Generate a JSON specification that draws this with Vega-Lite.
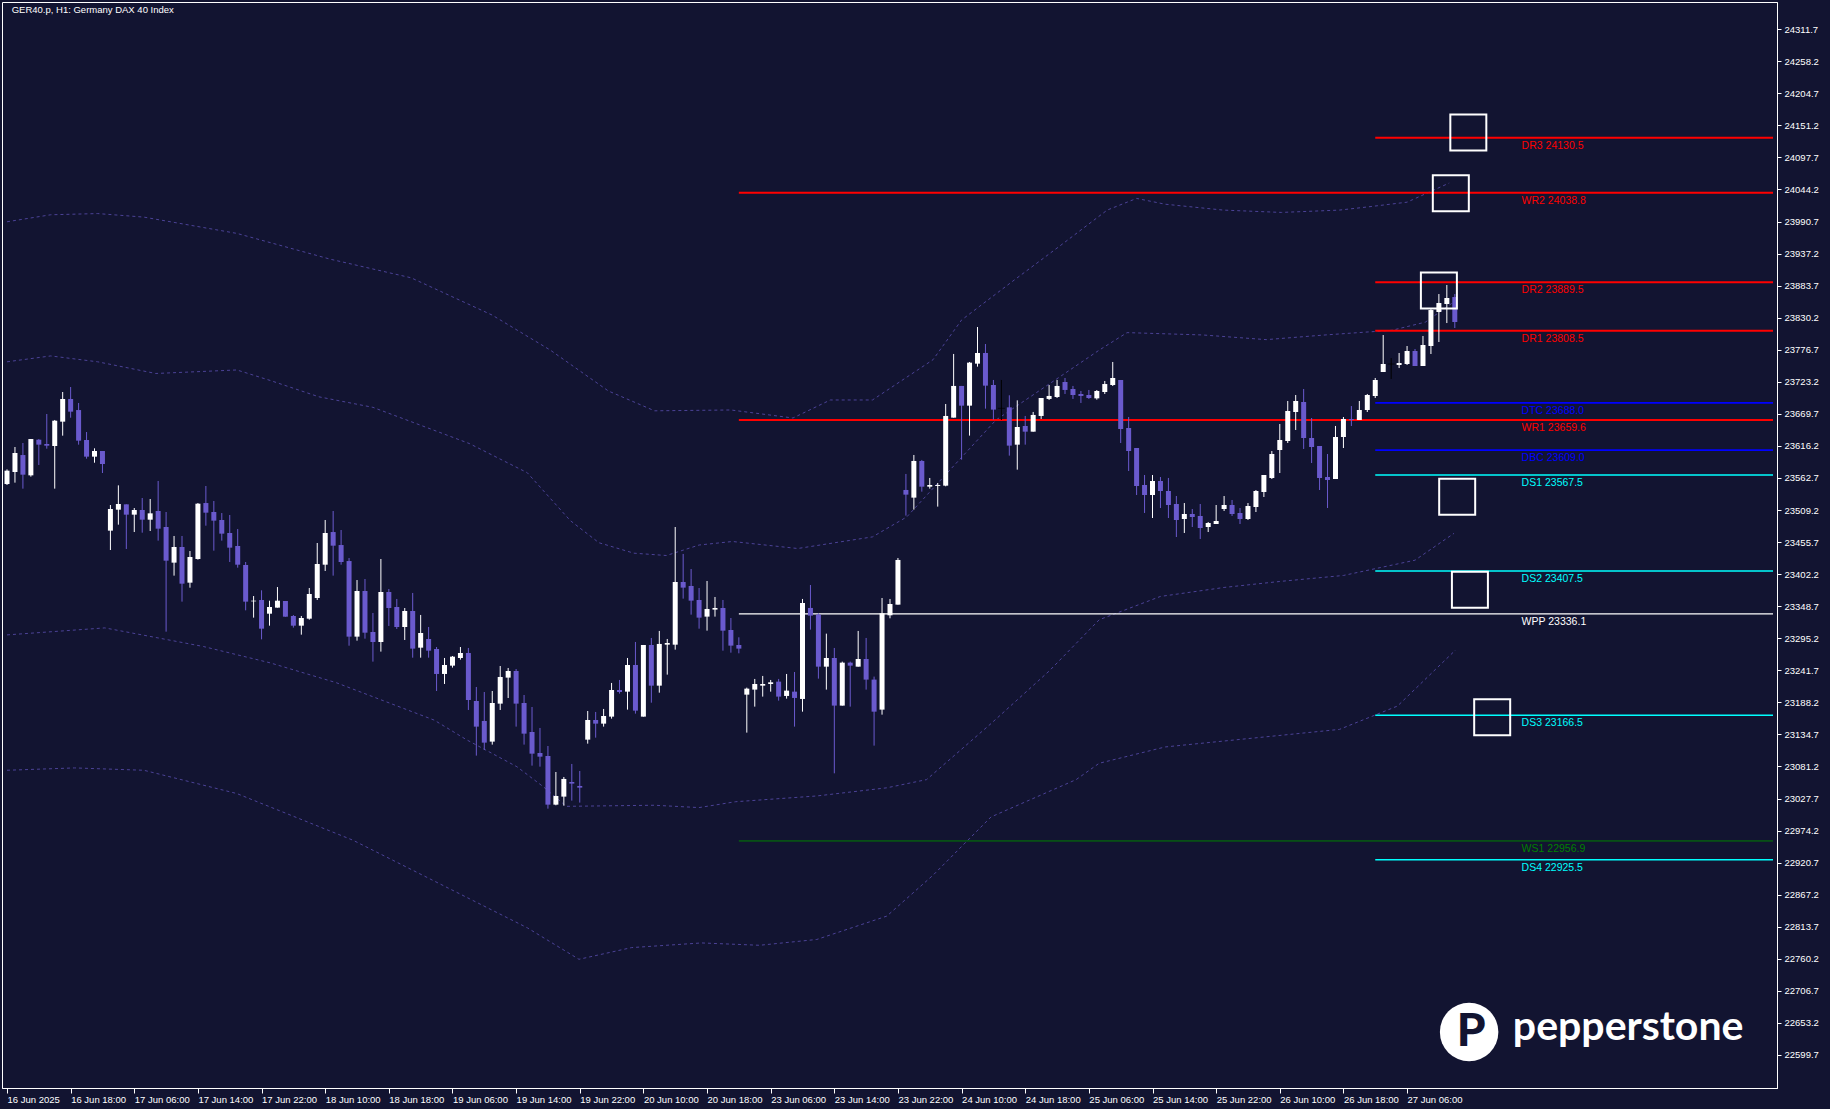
{
  "$schema": "https://vega.github.io/schema/vega-lite/v6.json",
  "width": 1775,
  "height": 1086,
  "autosize": {"type": "none"},
  "padding": {"left": 2, "top": 2, "right": 53, "bottom": 21},
  "background": "#121431",
  "config": {
    "view": {"stroke": "#ffffff", "strokeWidth": 1, "fill": "#121431"},
    "axis": {"grid": false, "title": null, "labelFont": "Liberation Sans", "labelFontSize": 9.5, "labelColor": "#ffffff", "tickColor": "#ffffff", "domainColor": "#ffffff", "labelOverlap": false, "labelSeparation": 0},
    "axisY": {"labelOverlap": false},
    "axisRight": {"labelOverlap": false},
    "axisQuantitative": {"labelOverlap": false}
  },
  "datasets": {
    "candles": [
      {"i":0,"o":23552.6,"h":23577.1,"l":23551.0,"c":23574.9,"d":"up"},
      {"i":1,"o":23572.7,"h":23614.4,"l":23554.9,"c":23604.4,"d":"up"},
      {"i":2,"o":23601.0,"h":23621.1,"l":23544.9,"c":23568.2,"d":"down"},
      {"i":3,"o":23567.1,"h":23627.7,"l":23564.9,"c":23627.7,"d":"up"},
      {"i":4,"o":23626.6,"h":23627.7,"l":23584.4,"c":23618.3,"d":"down"},
      {"i":5,"o":23619.4,"h":23669.5,"l":23611.6,"c":23616.6,"d":"down"},
      {"i":6,"o":23616.1,"h":23659.5,"l":23544.9,"c":23658.3,"d":"up"},
      {"i":7,"o":23656.7,"h":23706.2,"l":23633.3,"c":23694.5,"d":"up"},
      {"i":8,"o":23694.5,"h":23714.5,"l":23663.3,"c":23673.4,"d":"down"},
      {"i":9,"o":23676.1,"h":23687.8,"l":23618.3,"c":23625.0,"d":"down"},
      {"i":10,"o":23626.1,"h":23639.4,"l":23594.9,"c":23598.3,"d":"down"},
      {"i":11,"o":23598.3,"h":23612.2,"l":23588.2,"c":23607.7,"d":"up"},
      {"i":12,"o":23607.7,"h":23607.7,"l":23571.0,"c":23586.0,"d":"down"},
      {"i":13,"o":23474.8,"h":23517.6,"l":23442.5,"c":23510.9,"d":"up"},
      {"i":14,"o":23509.8,"h":23550.4,"l":23484.8,"c":23519.3,"d":"up"},
      {"i":15,"o":23518.7,"h":23518.7,"l":23444.2,"c":23501.5,"d":"down"},
      {"i":16,"o":23501.5,"h":23512.6,"l":23472.5,"c":23509.3,"d":"up"},
      {"i":17,"o":23509.3,"h":23529.3,"l":23471.4,"c":23493.1,"d":"down"},
      {"i":18,"o":23493.1,"h":23527.6,"l":23474.2,"c":23503.7,"d":"up"},
      {"i":19,"o":23507.6,"h":23557.7,"l":23458.1,"c":23478.1,"d":"down"},
      {"i":20,"o":23480.9,"h":23505.9,"l":23306.2,"c":23424.7,"d":"down"},
      {"i":21,"o":23421.4,"h":23465.9,"l":23399.7,"c":23447.5,"d":"up"},
      {"i":22,"o":23447.5,"h":23465.9,"l":23356.3,"c":23386.3,"d":"down"},
      {"i":23,"o":23388.0,"h":23440.8,"l":23379.6,"c":23430.8,"d":"up"},
      {"i":24,"o":23427.5,"h":23520.9,"l":23426.4,"c":23519.8,"d":"up"},
      {"i":25,"o":23520.9,"h":23549.3,"l":23483.1,"c":23504.8,"d":"down"},
      {"i":26,"o":23505.9,"h":23524.3,"l":23441.4,"c":23491.5,"d":"down"},
      {"i":27,"o":23492.6,"h":23504.2,"l":23458.1,"c":23469.8,"d":"down"},
      {"i":28,"o":23470.9,"h":23500.9,"l":23422.5,"c":23446.4,"d":"down"},
      {"i":29,"o":23449.2,"h":23477.5,"l":23413.0,"c":23418.0,"d":"down"},
      {"i":30,"o":23417.5,"h":23422.5,"l":23341.8,"c":23356.3,"d":"down"},
      {"i":31,"o":23356.8,"h":23365.7,"l":23329.6,"c":23357.9,"d":"up"},
      {"i":32,"o":23359.1,"h":23375.2,"l":23293.4,"c":23311.2,"d":"down"},
      {"i":33,"o":23336.2,"h":23357.9,"l":23316.2,"c":23347.4,"d":"up"},
      {"i":34,"o":23346.3,"h":23380.7,"l":23346.3,"c":23357.9,"d":"up"},
      {"i":35,"o":23357.4,"h":23357.4,"l":23331.2,"c":23331.2,"d":"down"},
      {"i":36,"o":23332.4,"h":23334.0,"l":23312.9,"c":23316.2,"d":"down"},
      {"i":37,"o":23316.2,"h":23332.4,"l":23301.2,"c":23329.0,"d":"up"},
      {"i":38,"o":23327.9,"h":23379.1,"l":23326.2,"c":23369.1,"d":"up"},
      {"i":39,"o":23362.4,"h":23454.2,"l":23359.1,"c":23419.1,"d":"up"},
      {"i":40,"o":23418.0,"h":23492.6,"l":23407.5,"c":23470.9,"d":"up"},
      {"i":41,"o":23472.5,"h":23507.6,"l":23399.7,"c":23449.7,"d":"down"},
      {"i":42,"o":23450.8,"h":23475.9,"l":23418.0,"c":23422.5,"d":"down"},
      {"i":43,"o":23424.1,"h":23429.1,"l":23282.8,"c":23297.9,"d":"down"},
      {"i":44,"o":23297.9,"h":23392.4,"l":23291.2,"c":23374.1,"d":"up"},
      {"i":45,"o":23374.1,"h":23394.1,"l":23294.5,"c":23304.5,"d":"down"},
      {"i":46,"o":23305.7,"h":23337.4,"l":23256.2,"c":23289.0,"d":"down"},
      {"i":47,"o":23289.0,"h":23427.5,"l":23272.9,"c":23372.4,"d":"up"},
      {"i":48,"o":23372.4,"h":23377.4,"l":23315.7,"c":23345.7,"d":"down"},
      {"i":49,"o":23347.4,"h":23360.8,"l":23310.7,"c":23314.0,"d":"down"},
      {"i":50,"o":23314.0,"h":23345.7,"l":23292.3,"c":23340.7,"d":"up"},
      {"i":51,"o":23340.7,"h":23370.8,"l":23262.8,"c":23277.9,"d":"down"},
      {"i":52,"o":23279.5,"h":23334.1,"l":23262.8,"c":23304.0,"d":"up"},
      {"i":53,"o":23294.0,"h":23314.0,"l":23262.8,"c":23274.5,"d":"down"},
      {"i":54,"o":23277.3,"h":23280.6,"l":23207.2,"c":23235.6,"d":"down"},
      {"i":55,"o":23235.6,"h":23262.3,"l":23218.9,"c":23250.6,"d":"up"},
      {"i":56,"o":23249.5,"h":23265.6,"l":23246.2,"c":23264.5,"d":"up"},
      {"i":57,"o":23262.3,"h":23280.6,"l":23259.5,"c":23270.6,"d":"up"},
      {"i":58,"o":23270.6,"h":23279.0,"l":23175.5,"c":23192.2,"d":"down"},
      {"i":59,"o":23190.5,"h":23213.9,"l":23099.3,"c":23147.7,"d":"down"},
      {"i":60,"o":23157.2,"h":23205.5,"l":23108.8,"c":23121.0,"d":"down"},
      {"i":61,"o":23122.7,"h":23207.2,"l":23117.7,"c":23187.2,"d":"up"},
      {"i":62,"o":23186.1,"h":23248.9,"l":23175.5,"c":23230.6,"d":"up"},
      {"i":63,"o":23229.5,"h":23245.6,"l":23195.5,"c":23240.6,"d":"up"},
      {"i":64,"o":23240.6,"h":23243.9,"l":23147.7,"c":23186.1,"d":"down"},
      {"i":65,"o":23187.2,"h":23200.5,"l":23117.7,"c":23136.0,"d":"down"},
      {"i":66,"o":23138.8,"h":23180.5,"l":23082.6,"c":23102.6,"d":"down"},
      {"i":67,"o":23103.7,"h":23145.5,"l":23080.9,"c":23097.6,"d":"down"},
      {"i":68,"o":23098.7,"h":23115.4,"l":23010.8,"c":23017.5,"d":"down"},
      {"i":69,"o":23017.5,"h":23072.0,"l":23016.4,"c":23032.0,"d":"up"},
      {"i":70,"o":23030.9,"h":23063.7,"l":23015.8,"c":23060.4,"d":"up"},
      {"i":71,"o":23055.3,"h":23085.4,"l":23024.2,"c":23052.6,"d":"down"},
      {"i":72,"o":23048.7,"h":23073.7,"l":23020.9,"c":23045.9,"d":"down"},
      {"i":73,"o":23126.0,"h":23173.8,"l":23119.3,"c":23158.8,"d":"up"},
      {"i":74,"o":23158.8,"h":23172.2,"l":23129.3,"c":23152.7,"d":"down"},
      {"i":75,"o":23152.7,"h":23177.2,"l":23147.7,"c":23165.5,"d":"up"},
      {"i":76,"o":23164.4,"h":23220.6,"l":23161.0,"c":23208.9,"d":"up"},
      {"i":77,"o":23208.9,"h":23225.6,"l":23202.8,"c":23205.5,"d":"down"},
      {"i":78,"o":23206.1,"h":23262.3,"l":23176.1,"c":23250.6,"d":"up"},
      {"i":79,"o":23250.6,"h":23289.0,"l":23169.4,"c":23174.4,"d":"down"},
      {"i":80,"o":23164.4,"h":23284.0,"l":23164.4,"c":23284.0,"d":"up"},
      {"i":81,"o":23284.0,"h":23295.7,"l":23187.7,"c":23216.1,"d":"down"},
      {"i":82,"o":23216.1,"h":23307.4,"l":23204.4,"c":23285.7,"d":"up"},
      {"i":83,"o":23284.5,"h":23294.0,"l":23234.5,"c":23287.3,"d":"up"},
      {"i":84,"o":23284.5,"h":23480.9,"l":23276.2,"c":23389.1,"d":"up"},
      {"i":85,"o":23389.1,"h":23435.9,"l":23361.3,"c":23379.7,"d":"down"},
      {"i":86,"o":23382.5,"h":23410.8,"l":23334.6,"c":23358.0,"d":"down"},
      {"i":87,"o":23359.1,"h":23379.1,"l":23311.2,"c":23329.6,"d":"down"},
      {"i":88,"o":23331.3,"h":23390.8,"l":23307.9,"c":23344.1,"d":"up"},
      {"i":89,"o":23343.0,"h":23364.1,"l":23331.3,"c":23345.7,"d":"up"},
      {"i":90,"o":23345.7,"h":23359.1,"l":23274.5,"c":23307.9,"d":"down"},
      {"i":91,"o":23309.0,"h":23329.0,"l":23271.2,"c":23282.9,"d":"down"},
      {"i":92,"o":23284.0,"h":23296.8,"l":23270.1,"c":23277.9,"d":"down"},
      {"i":93,"o":23201.1,"h":23212.8,"l":23137.7,"c":23211.1,"d":"up"},
      {"i":94,"o":23209.5,"h":23227.3,"l":23181.1,"c":23218.9,"d":"up"},
      {"i":95,"o":23216.1,"h":23232.3,"l":23197.8,"c":23218.9,"d":"up"},
      {"i":96,"o":23218.9,"h":23225.6,"l":23206.1,"c":23221.7,"d":"up"},
      {"i":97,"o":23222.8,"h":23227.3,"l":23191.1,"c":23197.8,"d":"down"},
      {"i":98,"o":23198.9,"h":23235.6,"l":23194.4,"c":23207.8,"d":"up"},
      {"i":99,"o":23206.1,"h":23238.9,"l":23147.7,"c":23195.6,"d":"down"},
      {"i":100,"o":23193.9,"h":23360.8,"l":23172.7,"c":23354.1,"d":"up"},
      {"i":101,"o":23345.8,"h":23384.1,"l":23309.6,"c":23333.0,"d":"down"},
      {"i":102,"o":23334.6,"h":23336.9,"l":23227.8,"c":23247.8,"d":"down"},
      {"i":103,"o":23247.8,"h":23302.9,"l":23209.5,"c":23262.3,"d":"up"},
      {"i":104,"o":23262.3,"h":23279.0,"l":23069.8,"c":23182.8,"d":"down"},
      {"i":105,"o":23182.8,"h":23256.2,"l":23182.8,"c":23254.5,"d":"up"},
      {"i":106,"o":23254.5,"h":23256.2,"l":23181.1,"c":23249.5,"d":"down"},
      {"i":107,"o":23247.8,"h":23307.4,"l":23247.8,"c":23260.6,"d":"up"},
      {"i":108,"o":23260.6,"h":23295.7,"l":23209.5,"c":23226.2,"d":"down"},
      {"i":109,"o":23226.2,"h":23231.2,"l":23116.0,"c":23172.7,"d":"down"},
      {"i":110,"o":23176.1,"h":23362.4,"l":23167.7,"c":23336.9,"d":"up"},
      {"i":111,"o":23333.5,"h":23360.8,"l":23328.5,"c":23352.4,"d":"up"},
      {"i":112,"o":23351.3,"h":23429.2,"l":23351.3,"c":23425.9,"d":"up"},
      {"i":113,"o":23542.7,"h":23569.4,"l":23499.9,"c":23534.9,"d":"down"},
      {"i":114,"o":23529.9,"h":23601.1,"l":23509.9,"c":23591.1,"d":"up"},
      {"i":115,"o":23591.1,"h":23592.8,"l":23539.9,"c":23548.2,"d":"down"},
      {"i":116,"o":23548.2,"h":23562.7,"l":23544.9,"c":23551.0,"d":"up"},
      {"i":117,"o":23549.4,"h":23554.4,"l":23514.9,"c":23551.0,"d":"up"},
      {"i":118,"o":23549.9,"h":23686.2,"l":23548.8,"c":23666.2,"d":"up"},
      {"i":119,"o":23663.4,"h":23769.7,"l":23663.4,"c":23716.3,"d":"up"},
      {"i":120,"o":23716.3,"h":23716.3,"l":23593.3,"c":23683.4,"d":"down"},
      {"i":121,"o":23683.4,"h":23756.3,"l":23633.4,"c":23755.2,"d":"up"},
      {"i":122,"o":23753.5,"h":23814.7,"l":23748.5,"c":23771.3,"d":"up"},
      {"i":123,"o":23771.3,"h":23786.3,"l":23678.4,"c":23716.8,"d":"down"},
      {"i":124,"o":23717.9,"h":23726.3,"l":23660.1,"c":23676.8,"d":"down"},
      {"i":125,"o":23679.0,"h":23726.3,"l":23659.5,"c":23679.0,"d":"flat"},
      {"i":126,"o":23680.6,"h":23700.7,"l":23600.0,"c":23616.7,"d":"down"},
      {"i":127,"o":23618.3,"h":23692.3,"l":23576.6,"c":23647.8,"d":"up"},
      {"i":128,"o":23649.5,"h":23666.2,"l":23618.3,"c":23640.0,"d":"down"},
      {"i":129,"o":23640.0,"h":23672.9,"l":23640.0,"c":23667.9,"d":"up"},
      {"i":130,"o":23666.2,"h":23696.2,"l":23661.2,"c":23696.2,"d":"up"},
      {"i":131,"o":23694.6,"h":23717.9,"l":23692.9,"c":23699.6,"d":"up"},
      {"i":132,"o":23697.9,"h":23726.3,"l":23696.2,"c":23716.3,"d":"up"},
      {"i":133,"o":23722.9,"h":23729.6,"l":23702.9,"c":23709.6,"d":"down"},
      {"i":134,"o":23711.2,"h":23716.3,"l":23694.6,"c":23701.2,"d":"down"},
      {"i":135,"o":23702.9,"h":23707.9,"l":23687.9,"c":23699.6,"d":"down"},
      {"i":136,"o":23701.2,"h":23709.6,"l":23694.6,"c":23696.2,"d":"down"},
      {"i":137,"o":23695.6,"h":23709.5,"l":23693.4,"c":23707.9,"d":"up"},
      {"i":138,"o":23706.2,"h":23724.6,"l":23702.9,"c":23719.5,"d":"up"},
      {"i":139,"o":23717.9,"h":23756.3,"l":23716.2,"c":23729.6,"d":"up"},
      {"i":140,"o":23726.2,"h":23726.2,"l":23621.1,"c":23644.4,"d":"down"},
      {"i":141,"o":23646.1,"h":23664.5,"l":23574.4,"c":23607.7,"d":"down"},
      {"i":142,"o":23612.7,"h":23612.7,"l":23534.3,"c":23549.3,"d":"down"},
      {"i":143,"o":23551.0,"h":23567.7,"l":23504.3,"c":23534.3,"d":"down"},
      {"i":144,"o":23534.3,"h":23567.7,"l":23495.9,"c":23557.7,"d":"up"},
      {"i":145,"o":23557.7,"h":23564.3,"l":23512.6,"c":23541.0,"d":"down"},
      {"i":146,"o":23541.0,"h":23562.7,"l":23495.9,"c":23517.6,"d":"down"},
      {"i":147,"o":23519.3,"h":23532.6,"l":23464.2,"c":23492.6,"d":"down"},
      {"i":148,"o":23494.2,"h":23520.9,"l":23470.9,"c":23502.6,"d":"up"},
      {"i":149,"o":23502.6,"h":23510.9,"l":23480.9,"c":23497.6,"d":"down"},
      {"i":150,"o":23499.3,"h":23519.3,"l":23460.9,"c":23479.2,"d":"down"},
      {"i":151,"o":23480.9,"h":23489.2,"l":23472.5,"c":23487.6,"d":"up"},
      {"i":152,"o":23485.9,"h":23517.6,"l":23485.9,"c":23490.9,"d":"up"},
      {"i":153,"o":23510.9,"h":23532.6,"l":23507.6,"c":23517.6,"d":"up"},
      {"i":154,"o":23517.6,"h":23526.0,"l":23499.3,"c":23502.6,"d":"down"},
      {"i":155,"o":23504.3,"h":23512.6,"l":23485.9,"c":23494.2,"d":"down"},
      {"i":156,"o":23494.2,"h":23520.9,"l":23492.6,"c":23515.9,"d":"up"},
      {"i":157,"o":23514.3,"h":23542.6,"l":23505.9,"c":23541.0,"d":"up"},
      {"i":158,"o":23539.3,"h":23567.7,"l":23531.0,"c":23567.7,"d":"up"},
      {"i":159,"o":23562.7,"h":23607.7,"l":23561.0,"c":23602.7,"d":"up"},
      {"i":160,"o":23609.4,"h":23652.8,"l":23571.0,"c":23626.1,"d":"up"},
      {"i":161,"o":23624.4,"h":23691.2,"l":23621.1,"c":23674.5,"d":"up"},
      {"i":162,"o":23672.8,"h":23701.2,"l":23642.8,"c":23691.2,"d":"up"},
      {"i":163,"o":23689.5,"h":23711.2,"l":23611.1,"c":23629.4,"d":"down"},
      {"i":164,"o":23629.4,"h":23662.8,"l":23587.7,"c":23614.4,"d":"down"},
      {"i":165,"o":23616.1,"h":23616.1,"l":23542.6,"c":23562.7,"d":"down"},
      {"i":166,"o":23564.3,"h":23602.7,"l":23512.6,"c":23559.3,"d":"down"},
      {"i":167,"o":23561.0,"h":23649.5,"l":23561.0,"c":23631.1,"d":"up"},
      {"i":168,"o":23631.1,"h":23664.5,"l":23612.7,"c":23661.1,"d":"up"},
      {"i":169,"o":23661.1,"h":23682.8,"l":23649.5,"c":23659.5,"d":"down"},
      {"i":170,"o":23659.5,"h":23691.2,"l":23659.5,"c":23676.2,"d":"up"},
      {"i":171,"o":23676.2,"h":23702.9,"l":23672.8,"c":23701.2,"d":"up"},
      {"i":172,"o":23699.5,"h":23729.6,"l":23696.2,"c":23726.2,"d":"up"},
      {"i":173,"o":23739.6,"h":23801.3,"l":23739.6,"c":23752.9,"d":"up"},
      {"i":174,"o":23752.9,"h":23762.9,"l":23727.9,"c":23752.9,"d":"flat"},
      {"i":175,"o":23751.3,"h":23771.3,"l":23746.2,"c":23754.6,"d":"up"},
      {"i":176,"o":23752.9,"h":23783.0,"l":23751.3,"c":23774.6,"d":"up"},
      {"i":177,"o":23774.6,"h":23778.0,"l":23749.6,"c":23749.6,"d":"down"},
      {"i":178,"o":23749.6,"h":23799.7,"l":23749.6,"c":23784.6,"d":"up"},
      {"i":179,"o":23783.0,"h":23844.7,"l":23769.6,"c":23843.0,"d":"up"},
      {"i":180,"o":23839.7,"h":23869.7,"l":23789.6,"c":23854.7,"d":"up"},
      {"i":181,"o":23853.1,"h":23884.8,"l":23821.3,"c":23863.1,"d":"up"},
      {"i":182,"o":23864.7,"h":23869.7,"l":23813.0,"c":23823.0,"d":"down"}
    ],
    "bands": [
      {"b":"L1","i":0,"v":23990.3},{"b":"L1","i":5.5,"v":24002.0},{"b":"L1","i":11.4,"v":24004.0},{"b":"L1","i":17.2,"v":23998.1},{"b":"L1","i":28.9,"v":23970.9},{"b":"L1","i":40.6,"v":23928.0},{"b":"L1","i":50.8,"v":23896.8},{"b":"L1","i":61.0,"v":23834.5},{"b":"L1","i":68.3,"v":23776.1},{"b":"L1","i":75.6,"v":23707.9},{"b":"L1","i":81.4,"v":23674.8},{"b":"L1","i":91.0,"v":23676.2},{"b":"L1","i":98.8,"v":23662.8},{"b":"L1","i":103.5,"v":23692.9},{"b":"L1","i":108.8,"v":23692.9},{"b":"L1","i":116.4,"v":23760.0},{"b":"L1","i":120.0,"v":23826.4},{"b":"L1","i":126.6,"v":23892.9},{"b":"L1","i":132.5,"v":23951.4},{"b":"L1","i":138.3,"v":24009.8},{"b":"L1","i":142.0,"v":24029.3},{"b":"L1","i":145.6,"v":24019.6},{"b":"L1","i":152.9,"v":24009.8},{"b":"L1","i":160.2,"v":24005.9},{"b":"L1","i":167.5,"v":24009.8},{"b":"L1","i":171.0,"v":24015.0},{"b":"L1","i":176.0,"v":24023.0},{"b":"L1","i":181.3,"v":24055.0},
      {"b":"L2","i":0,"v":23756.6},{"b":"L2","i":5.5,"v":23766.4},{"b":"L2","i":11.4,"v":23756.6},{"b":"L2","i":18.7,"v":23737.1},{"b":"L2","i":28.9,"v":23743.0},{"b":"L2","i":33.1,"v":23725.4},{"b":"L2","i":39.2,"v":23698.2},{"b":"L2","i":46.0,"v":23680.6},{"b":"L2","i":58.1,"v":23620.3},{"b":"L2","i":65.4,"v":23571.5},{"b":"L2","i":70.8,"v":23491.7},{"b":"L2","i":74.4,"v":23454.7},{"b":"L2","i":78.8,"v":23437.2},{"b":"L2","i":82.9,"v":23433.3},{"b":"L2","i":87.0,"v":23450.8},{"b":"L2","i":91.2,"v":23456.7},{"b":"L2","i":99.4,"v":23445.0},{"b":"L2","i":108.8,"v":23464.4},{"b":"L2","i":113.1,"v":23497.6},{"b":"L2","i":124.3,"v":23659.2},{"b":"L2","i":137.3,"v":23776.1},{"b":"L2","i":140.8,"v":23805.3},{"b":"L2","i":150.3,"v":23801.4},{"b":"L2","i":158.3,"v":23793.6},{"b":"L2","i":165.7,"v":23801.4},{"b":"L2","i":174.1,"v":23809.2},{"b":"L2","i":178.3,"v":23822.8},{"b":"L2","i":181.6,"v":23854.0},
      {"b":"L3","i":0,"v":23300.8},{"b":"L3","i":12.3,"v":23312.5},{"b":"L3","i":18.5,"v":23297.0},{"b":"L3","i":24.7,"v":23281.4},{"b":"L3","i":33.1,"v":23254.1},{"b":"L3","i":41.4,"v":23221.0},{"b":"L3","i":46.0,"v":23197.6},{"b":"L3","i":53.7,"v":23158.6},{"b":"L3","i":57.8,"v":23125.6},{"b":"L3","i":64.1,"v":23080.8},{"b":"L3","i":67.4,"v":23047.6},{"b":"L3","i":70.3,"v":23014.7},{"b":"L3","i":81.4,"v":23016.5},{"b":"L3","i":87.0,"v":23012.6},{"b":"L3","i":91.6,"v":23022.4},{"b":"L3","i":101.8,"v":23032.0},{"b":"L3","i":110.6,"v":23045.6},{"b":"L3","i":115.6,"v":23059.3},{"b":"L3","i":123.7,"v":23152.8},{"b":"L3","i":131.0,"v":23240.4},{"b":"L3","i":137.3,"v":23326.1},{"b":"L3","i":145.0,"v":23365.0},{"b":"L3","i":153.0,"v":23380.0},{"b":"L3","i":160.0,"v":23390.0},{"b":"L3","i":168.0,"v":23400.0},{"b":"L3","i":177.0,"v":23425.5},{"b":"L3","i":181.9,"v":23470.3},
      {"b":"L4","i":0,"v":23074.9},{"b":"L4","i":8.5,"v":23078.8},{"b":"L4","i":17.2,"v":23074.9},{"b":"L4","i":28.9,"v":23036.0},{"b":"L4","i":43.5,"v":22958.1},{"b":"L4","i":58.1,"v":22860.7},{"b":"L4","i":65.4,"v":22812.0},{"b":"L4","i":71.9,"v":22759.4},{"b":"L4","i":78.5,"v":22778.9},{"b":"L4","i":87.3,"v":22786.7},{"b":"L4","i":94.6,"v":22782.8},{"b":"L4","i":101.8,"v":22792.5},{"b":"L4","i":110.6,"v":22831.5},{"b":"L4","i":116.4,"v":22899.6},{"b":"L4","i":123.7,"v":22997.0},{"b":"L4","i":134.4,"v":23059.3},{"b":"L4","i":137.3,"v":23086.6},{"b":"L4","i":145.6,"v":23113.8},{"b":"L4","i":152.9,"v":23123.6},{"b":"L4","i":160.2,"v":23133.3},{"b":"L4","i":167.5,"v":23143.1},{"b":"L4","i":174.8,"v":23182.1},{"b":"L4","i":182.1,"v":23275.6}
    ],
    "levels": [
      {"name":"DR3","v":24130.5,"from":172,"kind":"resistance","label":"DR3 24130.5"},
      {"name":"WR2","v":24038.8,"from":92,"kind":"resistance","label":"WR2 24038.8"},
      {"name":"DR2","v":23889.5,"from":172,"kind":"resistance","label":"DR2 23889.5"},
      {"name":"DR1","v":23808.5,"from":172,"kind":"resistance","label":"DR1 23808.5"},
      {"name":"DTC","v":23688.0,"from":172,"kind":"central","label":"DTC 23688.0"},
      {"name":"WR1","v":23659.6,"from":92,"kind":"resistance","label":"WR1 23659.6"},
      {"name":"DBC","v":23609.0,"from":172,"kind":"central","label":"DBC 23609.0"},
      {"name":"DS1","v":23567.5,"from":172,"kind":"daily support","label":"DS1 23567.5"},
      {"name":"DS2","v":23407.5,"from":172,"kind":"daily support","label":"DS2 23407.5"},
      {"name":"WPP","v":23336.1,"from":92,"kind":"pivot","label":"WPP 23336.1"},
      {"name":"DS3","v":23166.5,"from":172,"kind":"daily support","label":"DS3 23166.5"},
      {"name":"WS1","v":22956.9,"from":92,"kind":"weekly support","label":"WS1 22956.9"},
      {"name":"DS4","v":22925.5,"from":172,"kind":"daily support","label":"DS4 22925.5"}
    ],
    "boxes": [
      {"i":183.7,"v":24139.5},
      {"i":181.5,"v":24037.8},
      {"i":180.0,"v":23875.6},
      {"i":182.3,"v":23531.5},
      {"i":183.9,"v":23376.3},
      {"i":186.7,"v":23163.3}
    ],
    "captions": [
      {"text":"GER40.p, H1:  Germany DAX 40 Index","i":0.59,"v":24338.2},
      {"text":"pepperstone","i":189.3,"v":22624.8}
    ]
  },
  "layer": [
    {
      "data": {"name": "bands"},
      "mark": {"type": "line", "strokeDash": [3, 3], "strokeWidth": 1, "color": "#4b4296", "clip": true},
      "encoding": {
        "x": {"field": "i", "type": "quantitative", "scale": {"domain": [0, 221.875], "nice": false, "zero": false},
          "axis": {"orient": "bottom", "values": [0,8,16,24,32,40,48,56,64,72,80,88,96,104,112,120,128,136,144,152,160,168,176],
            "labelExpr": "['16 Jun 2025','16 Jun 18:00','17 Jun 06:00','17 Jun 14:00','17 Jun 22:00','18 Jun 10:00','18 Jun 18:00','19 Jun 06:00','19 Jun 14:00','19 Jun 22:00','20 Jun 10:00','20 Jun 18:00','23 Jun 06:00','23 Jun 14:00','23 Jun 22:00','24 Jun 10:00','24 Jun 18:00','25 Jun 06:00','25 Jun 14:00','25 Jun 22:00','26 Jun 10:00','26 Jun 18:00','27 Jun 06:00'][round(datum.value/8)]",
            "labelAlign": "left", "labelPadding": 1, "tickSize": 5, "labelOverlap": false, "labelFlush": false, "labelBound": false}},
        "y": {"field": "v", "type": "quantitative", "scale": {"domain": [22544.6, 24357.1], "nice": false, "zero": false},
          "axis": {"orient": "right", "values": [22599.7,22653.2,22706.7,22760.2,22813.7,22867.2,22920.7,22974.2,23027.7,23081.2,23134.7,23188.2,23241.7,23295.2,23348.7,23402.2,23455.7,23509.2,23562.7,23616.2,23669.7,23723.2,23776.7,23830.2,23883.7,23937.2,23990.7,24044.2,24097.7,24151.2,24204.7,24258.2,24311.7],
            "format": ".1f", "tickSize": 4, "labelPadding": 3, "labelOverlap": false, "labelFlush": false, "labelBound": false, "tickCount": 40}},
        "detail": {"field": "b"}
      }
    },
    {
      "data": {"name": "levels"},
      "mark": {"type": "rule", "clip": true},
      "encoding": {
        "x": {"field": "from", "type": "quantitative"},
        "x2": {"datum": 222},
        "y": {"field": "v", "type": "quantitative"},
        "color": {"field": "kind", "type": "nominal", "scale": {"domain": ["resistance", "central", "daily support", "pivot", "weekly support", "up", "down", "flat"], "range": ["#ff0000", "#0000ff", "#00ffff", "#ffffff", "#008000", "#ffffff", "#6a5acd", "#000000"]}, "legend": null},
        "strokeWidth": {"field": "kind", "type": "nominal", "scale": {"domain": ["resistance", "central", "daily support", "pivot", "weekly support"], "range": [2, 1, 2, 2, 2]}, "legend": null}
      }
    },
    {
      "data": {"name": "levels"},
      "mark": {"type": "text", "align": "left", "baseline": "alphabetic", "dy": 11, "font": "Liberation Sans", "fontSize": 10.5},
      "encoding": {
        "x": {"datum": 190.4, "type": "quantitative"},
        "y": {"field": "v", "type": "quantitative"},
        "text": {"field": "label"},
        "color": {"field": "kind", "type": "nominal", "legend": null}
      }
    },
    {
      "data": {"name": "candles"},
      "mark": {"type": "rule", "strokeWidth": 1},
      "encoding": {
        "x": {"field": "i", "type": "quantitative"},
        "y": {"field": "l", "type": "quantitative"},
        "y2": {"field": "h"},
        "color": {"field": "d", "type": "nominal", "legend": null}
      }
    },
    {
      "data": {"name": "candles"},
      "mark": {"type": "bar", "size": 5},
      "encoding": {
        "x": {"field": "i", "type": "quantitative"},
        "y": {"field": "o", "type": "quantitative"},
        "y2": {"field": "c"},
        "color": {"field": "d", "type": "nominal", "legend": null}
      }
    },
    {
      "data": {"name": "candles"},
      "transform": [{"filter": "datum.d == 'flat'"}],
      "mark": {"type": "tick", "orient": "horizontal", "size": 7, "thickness": 1, "color": "#000000"},
      "encoding": {
        "x": {"field": "i", "type": "quantitative"},
        "y": {"field": "o", "type": "quantitative"}
      }
    },
    {
      "data": {"name": "boxes"},
      "mark": {"type": "point", "shape": "square", "size": 1296, "filled": false, "stroke": "#ffffff", "strokeWidth": 2, "opacity": 1},
      "encoding": {
        "x": {"field": "i", "type": "quantitative"},
        "y": {"field": "v", "type": "quantitative"}
      }
    },
    {
      "data": {"name": "captions"},
      "transform": [{"filter": "datum.text != 'pepperstone'"}],
      "mark": {"type": "text", "align": "left", "baseline": "alphabetic", "font": "Liberation Sans", "fontSize": 9.5, "color": "#ffffff"},
      "encoding": {
        "x": {"field": "i", "type": "quantitative"},
        "y": {"field": "v", "type": "quantitative"},
        "text": {"field": "text"}
      }
    },
    {
      "data": {"name": "captions"},
      "transform": [{"filter": "datum.text == 'pepperstone'"}],
      "layer": [
        {
          "mark": {"type": "point", "shape": "circle", "size": 3420, "filled": true, "color": "#ffffff", "opacity": 1},
          "encoding": {
            "x": {"datum": 183.8, "type": "quantitative"},
            "y": {"datum": 22638.1, "type": "quantitative"}
          }
        },
        {
          "mark": {"type": "text", "text": "P", "font": "Lato", "fontWeight": 900, "fontSize": 46, "color": "#121431", "align": "center", "baseline": "middle", "dx": 2},
          "encoding": {
            "x": {"datum": 183.8, "type": "quantitative"},
            "y": {"datum": 22638.1, "type": "quantitative"}
          }
        },
        {
          "mark": {"type": "text", "font": "Lato", "fontWeight": 700, "fontSize": 41, "color": "#ffffff", "align": "left", "baseline": "alphabetic"},
          "encoding": {
            "text": {"field": "text"},
            "x": {"field": "i", "type": "quantitative"},
            "y": {"field": "v", "type": "quantitative"}
          }
        }
      ]
    }
  ]
}
